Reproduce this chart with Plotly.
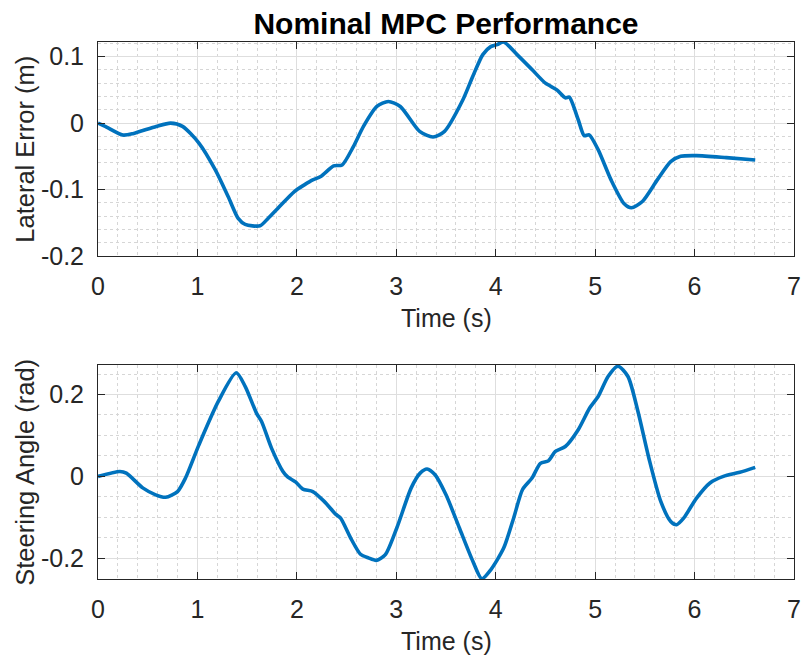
import plotly.graph_objects as go
from plotly.subplots import make_subplots

# Lateral error (m) vs time (s)
t_err = [0.0, 0.086, 0.25, 0.35, 0.585, 0.73, 0.85, 1.015, 1.18, 1.31, 1.41, 1.48, 1.63, 1.71, 1.81,
         1.975, 2.075, 2.16, 2.24, 2.37, 2.455, 2.57, 2.67, 2.805, 2.92, 3.04, 3.235, 3.37, 3.485,
         3.67, 3.77, 3.87, 3.95, 4.015, 4.08, 4.215, 4.365, 4.50, 4.615, 4.70, 4.74, 4.83, 4.89,
         4.94, 5.03, 5.16, 5.29, 5.365, 5.475, 5.625, 5.76, 5.86, 6.02, 6.32, 6.61]
lat_err = [0.0, -0.006, -0.018, -0.016, -0.005, 0.0, -0.005, -0.03, -0.0705, -0.111, -0.1435, -0.1525,
           -0.1545, -0.1435, -0.128, -0.103, -0.093, -0.0855, -0.0805, -0.0645, -0.063, -0.035, -0.005,
           0.025, 0.0325, 0.025, -0.0125, -0.021, -0.0125, 0.035, 0.0705, 0.103, 0.115, 0.118, 0.122,
           0.103, 0.0805, 0.060, 0.050, 0.038, 0.039, 0.005, -0.019, -0.0177, -0.040, -0.0855, -0.121,
           -0.1275, -0.118, -0.0855, -0.058, -0.050, -0.049, -0.052, -0.0555]

# Steering angle (rad) vs time (s)
t_steer = [0.0, 0.22, 0.285, 0.45, 0.58, 0.68, 0.80, 0.88, 1.015, 1.21, 1.39, 1.48, 1.595, 1.645, 1.745,
           1.86, 1.91, 1.99, 2.06, 2.16, 2.275, 2.39, 2.44, 2.54, 2.64, 2.72, 2.80, 2.89, 3.005, 3.15,
           3.24, 3.31, 3.39, 3.50, 3.635, 3.77, 3.86, 3.95, 4.08, 4.18, 4.27, 4.365, 4.45, 4.53, 4.60,
           4.70, 4.83, 4.945, 5.03, 5.13, 5.23, 5.33, 5.43, 5.54, 5.66, 5.76, 5.82, 5.89, 6.02, 6.155,
           6.29, 6.455, 6.61]
steer = [0.0, 0.012, 0.008, -0.028, -0.045, -0.051, -0.037, -0.004, 0.077, 0.183, 0.253, 0.22, 0.154,
         0.134, 0.069, 0.012, -0.002, -0.014, -0.031, -0.037, -0.061, -0.092, -0.102, -0.15, -0.19,
         -0.199, -0.205, -0.191, -0.126, -0.028, 0.008, 0.018, 0.004, -0.045, -0.126, -0.207, -0.25,
         -0.228, -0.175, -0.102, -0.032, -0.004, 0.032, 0.038, 0.061, 0.073, 0.114, 0.167, 0.195, 0.244,
         0.269, 0.244, 0.159, 0.045, -0.061, -0.11, -0.118, -0.102, -0.053, -0.016, 0.0, 0.01, 0.022]

x_ticks = [0, 1, 2, 3, 4, 5, 6, 7]
err_ticks = [-0.2, -0.1, 0, 0.1]
err_labels = ["-0.2", "-0.1", "0", "0.1"]
steer_ticks = [-0.2, 0, 0.2]
steer_labels = ["-0.2", "0", "0.2"]

BLUE = "#0072BD"
AX = "#262626"
FONT = "Liberation Sans, Arial, sans-serif"

fig = make_subplots(rows=2, cols=1, vertical_spacing=0.203)

fig.add_trace(go.Scatter(x=t_err, y=lat_err, mode="lines",
                         line=dict(color=BLUE, width=3.6, shape="spline", smoothing=0.7),
                         showlegend=False), row=1, col=1)
fig.add_trace(go.Scatter(x=t_steer, y=steer, mode="lines",
                         line=dict(color=BLUE, width=3.6, shape="spline", smoothing=0.7),
                         showlegend=False), row=2, col=1)

common_x = dict(range=[0, 7], tickvals=x_ticks, ticks="inside", ticklen=7, tickcolor=AX,
                showline=True, linecolor=AX, linewidth=1, mirror="ticks",
                showgrid=True, gridcolor="#dedede", gridwidth=1, zeroline=False,
                tickfont=dict(family=FONT, size=25, color=AX), ticklabelstandoff=8,
                minor=dict(dtick=0.2, tick0=0, showgrid=True, gridcolor="#d6d6d6",
                           griddash="dot", gridwidth=1, ticks=""))
common_y = dict(ticks="inside", ticklen=7, tickcolor=AX,
                showline=True, linecolor=AX, linewidth=1, mirror="ticks",
                showgrid=True, gridcolor="#dedede", gridwidth=1, zeroline=False,
                tickfont=dict(family=FONT, size=25, color=AX), ticklabelstandoff=8)

fig.update_xaxes(**common_x)
fig.update_yaxes(**common_y)
fig.update_yaxes(range=[-0.2, 0.122], tickvals=err_ticks, ticktext=err_labels,
                 minor=dict(dtick=0.02, tick0=0, showgrid=True, gridcolor="#d6d6d6",
                            griddash="dot", gridwidth=1, ticks=""), row=1, col=1)
fig.update_yaxes(range=[-0.2505, 0.272], tickvals=steer_ticks, ticktext=steer_labels,
                 minor=dict(dtick=0.05, tick0=0, showgrid=True, gridcolor="#d6d6d6",
                            griddash="dot", gridwidth=1, ticks=""), row=2, col=1)

fig.update_layout(
    width=811, height=657,
    margin=dict(l=98, r=10, t=42, b=78),
    paper_bgcolor="white", plot_bgcolor="white",
    title=dict(text="<b>Nominal MPC Performance</b>", x=0.5, xref="paper",
               y=1 - 23 / 657, yref="container", yanchor="middle", xanchor="center",
               font=dict(family=FONT, size=30, color="black")),
    annotations=[
        dict(text="Time (s)", x=0.5, y=(579 - 318) / 537, xref="paper", yref="paper",
             showarrow=False, font=dict(family=FONT, size=25, color=AX), xanchor="center", yanchor="middle"),
        dict(text="Time (s)", x=0.5, y=(579 - 641) / 537, xref="paper", yref="paper",
             showarrow=False, font=dict(family=FONT, size=25, color=AX), xanchor="center", yanchor="middle"),
        dict(text="Lateral Error (m)", x=(24 - 98) / 703, y=(579 - 149) / 537, xref="paper", yref="paper",
             showarrow=False, textangle=-90, font=dict(family=FONT, size=25.5, color=AX),
             xanchor="center", yanchor="middle"),
        dict(text="Steering Angle (rad)", x=(24 - 98) / 703, y=(579 - 472) / 537, xref="paper", yref="paper",
             showarrow=False, textangle=-90, font=dict(family=FONT, size=25.5, color=AX),
             xanchor="center", yanchor="middle"),
    ],
)

fig.write_html("out.html")
